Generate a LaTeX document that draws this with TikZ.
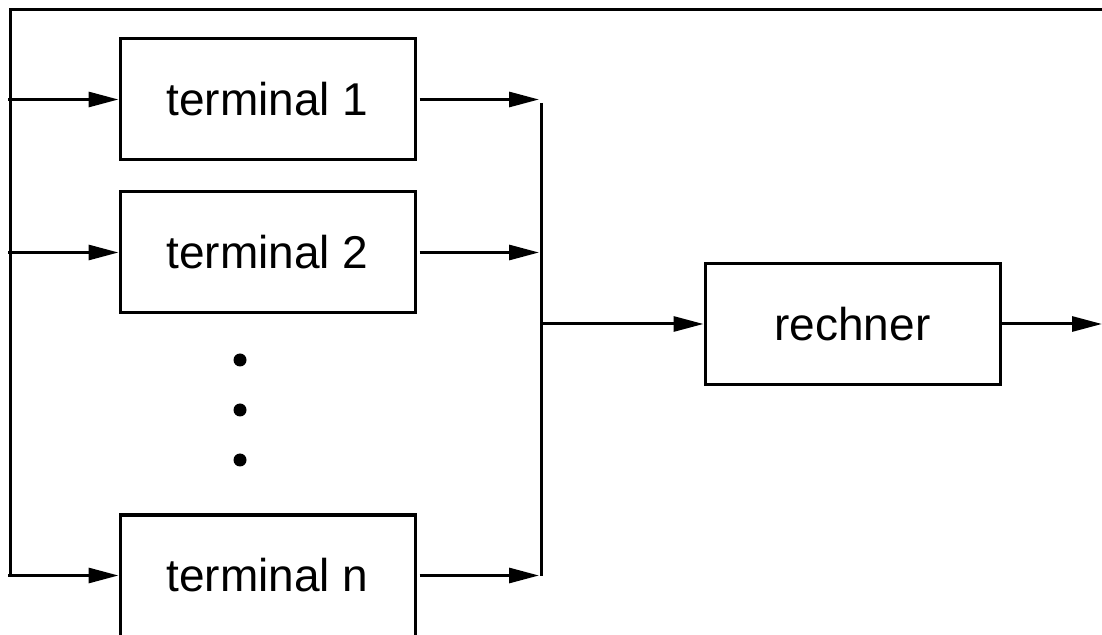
\documentclass[tikz,border=0pt]{standalone}
\usepackage{fontspec}
\setmainfont{Liberation Sans}
\usetikzlibrary{arrows.meta}
\tikzset{
  blk/.style={draw, line width=1.5pt, minimum width=147.5pt, minimum height=60.5pt, inner sep=0pt, font=\fontsize{23pt}{26pt}\selectfont},
  ln/.style={line width=1.5pt},
  arr/.style={ln, -{Triangle[length=15pt,width=7.5pt]}},
  dotn/.style={circle, fill=black, inner sep=0pt, minimum size=6.5pt}
}
\begin{document}
\begin{tikzpicture}[x=0.5pt,y=-0.5pt]
\useasboundingbox (0,0) rectangle (1102,635);
\begin{scope}
\clip (0,0) rectangle (1102,635);
\node[blk] (t1) at (267.5,99.5) {terminal 1};
\node[blk] (t2) at (267.5,252.5) {terminal 2};
\node[blk] (tn) at (267.5,575.5) {terminal n};
\node[blk] (r) at (852.5,324) {rechner};
\node[dotn] (d1) at (240,360) {};
\node[dotn] (d2) at (240,410) {};
\node[dotn] (d3) at (240,460) {};
% feedback loop
\coordinate (fr) at (1115,10);
\coordinate (ftl) at (10,10);
\coordinate (fbl) at (10,575);
\draw[ln] (fr) -- (ftl) -- (fbl);
\coordinate (i1) at (8,99.5);
\coordinate (i2) at (8,252.5);
\coordinate (in) at (8,575.5);
\draw[arr] (i1) -- (t1.west);
\draw[arr] (i2) -- (t2.west);
\draw[arr] (in) -- (tn.west);
% outputs to bus
\coordinate (o1) at (539,99.5);
\coordinate (o2) at (539,252.5);
\coordinate (on) at (539,575.5);
\draw[arr] ([xshift=1.5pt]t1.east) -- (o1);
\draw[arr] ([xshift=1.5pt]t2.east) -- (o2);
\draw[arr] ([xshift=1.5pt]tn.east) -- (on);
\coordinate (btop) at (541.5,103);
\coordinate (bbot) at (541.5,576);
\draw[ln] (btop) -- (bbot);
\coordinate (bm) at (541.5,324);
\draw[arr] (bm) -- (r.west);
\coordinate (out) at (1102,324);
\draw[arr] (r.east) -- (out);
\end{scope}
\end{tikzpicture}
\end{document}
